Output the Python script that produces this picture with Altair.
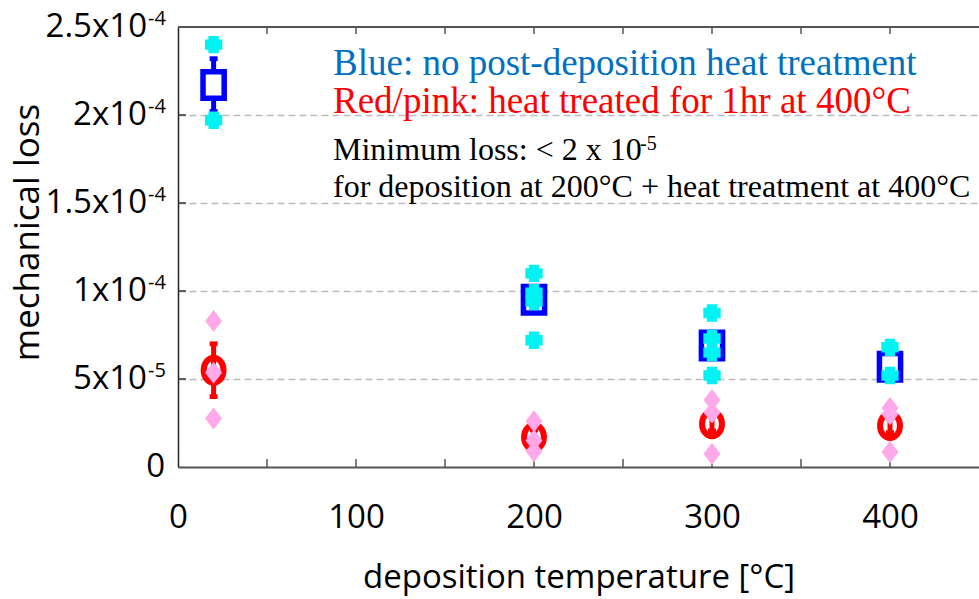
import altair as alt
import pandas as pd

# deposition temperatures of the coating runs [°C]
temps = [20, 200, 300, 400]

# no post-deposition heat treatment: mean loss and error
blue_mean = [2.17e-4, 9.5e-5, 6.9e-5, 5.7e-5]
blue_err = [1.5e-5, 6e-6, 5e-6, 4e-6]

# heat treated 1 hr at 400 °C: mean loss and error
red_mean = [5.5e-5, 1.7e-5, 2.45e-5, 2.35e-5]
red_err = [1.5e-5, 4e-6, 4e-6, 4e-6]

# individual measurements, untreated
cyan_temp = [20, 20, 200, 200, 200, 200, 300, 300, 300, 300, 400, 400]
cyan_loss = [2.40e-4, 1.97e-4, 1.10e-4, 9.9e-5, 9.4e-5, 7.2e-5,
             8.75e-5, 7.3e-5, 6.5e-5, 5.2e-5, 6.8e-5, 5.2e-5]

# individual measurements, heat treated
pink_temp = [20, 20, 20, 200, 200, 200, 300, 300, 300, 400, 400, 400]
pink_loss = [8.3e-5, 5.35e-5, 2.75e-5, 2.6e-5, 1.5e-5, 0.9e-5,
             3.8e-5, 3.1e-5, 0.75e-5, 3.35e-5, 3.0e-5, 0.85e-5]

# axis ticks and labels
x_label_values = [0, 100, 200, 300, 400]
x_tick_values = [50, 100, 150, 200, 250, 300, 350, 400]
y_values = [0, 5e-5, 1e-4, 1.5e-4, 2e-4, 2.5e-4]
y_base = ["0", "5x10", "1x10", "1.5x10", "2x10", "2.5x10"]
y_exp = ["", "-5", "-4", "-4", "-4", "-4"]
y_grid_values = [5e-5, 1e-4, 1.5e-4, 2e-4]
y_top = [2.5e-4]

# annotation text
note_lines = [
    "Blue: no post-deposition heat treatment",
    "Red/pink: heat treated for 1hr at 400°C",
    "Minimum loss: < 2 x 10",
    "for deposition at 200°C + heat treatment at 400°C",
]
note_sup = "-5"

W, H = 801, 440
SANS = "Open Sans"
SERIF = "Liberation Serif"

xs = alt.Scale(domain=[0, 450], nice=False, zero=False)
ys = alt.Scale(domain=[0, 2.5e-4], nice=False, zero=False)

means = pd.DataFrame({
    "temp": temps,
    "blue": blue_mean, "blue_err": blue_err,
    "red": red_mean, "red_err": red_err,
})
cyan = pd.DataFrame({"temp": cyan_temp, "loss": cyan_loss})
pink = pd.DataFrame({"temp": pink_temp, "loss": pink_loss})
ylab = pd.DataFrame({"v": y_values, "base": y_base, "exp": y_exp})
xt = pd.DataFrame({"t": x_tick_values})
yt = pd.DataFrame({"v": y_grid_values})
ytop = pd.DataFrame({"v": y_top})

SQUARE = "M-0.8,-1H0.8V1H-0.8Z"
ELLIPSE = "M0,-1A0.8,1 0 1,1 0,1A0.8,1 0 1,1 0,-1Z"
CROSS = "M-0.6,-1H0.6V-0.6H1V0.6H0.6V1H-0.6V0.6H-1V-0.6H-0.6Z"
DIAMOND = "M0,-1L0.77,0L0,1L-0.77,0Z"
CAP = "M-1,-0.6H1V0.6H-1Z"

base = alt.Chart(means)

# axes, grid and the bottom/left frame
frame = base.mark_point(opacity=0).encode(
    x=alt.X("temp:Q", scale=xs, axis=alt.Axis(
        values=x_label_values, ticks=False, grid=False, labelFlush=False,
        domainColor="#555555", domainWidth=2,
        labelFont=SANS, labelFontSize=33, labelColor="black", labelPadding=34,
        title="deposition temperature [°C]", titleFont=SANS, titleFontSize=33,
        titleFontWeight="normal", titleColor="black",
        titleBaseline="alphabetic", titleY=120)),
    y=alt.Y("blue:Q", scale=ys, axis=alt.Axis(
        values=y_grid_values, ticks=False, labels=False,
        grid=True, gridDash=[7, 4], gridColor="#bdbdbd", gridWidth=1.5,
        domainColor="#222222", domainWidth=1.5,
        title="mechanical loss", titleFont=SANS, titleFontSize=35,
        titleFontWeight="normal", titleColor="black",
        titleBaseline="alphabetic", titleX=-140, titleY=205)),
)

top_line = alt.Chart(ytop).mark_rule(color="#555555", strokeWidth=2).encode(
    y=alt.Y("v:Q", scale=ys, axis=None), x=alt.value(0), x2=alt.value(W))

tick_bottom = alt.Chart(xt).mark_rule(color="#555555", strokeWidth=1.5).encode(
    x=alt.X("t:Q", scale=xs, axis=None), y=alt.value(H), y2=alt.value(H - 8))
tick_top = alt.Chart(xt).mark_rule(color="#555555", strokeWidth=1.5).encode(
    x=alt.X("t:Q", scale=xs, axis=None), y=alt.value(0), y2=alt.value(7))
tick_left = alt.Chart(yt).mark_rule(color="#333333", strokeWidth=1.5).encode(
    y=alt.Y("v:Q", scale=ys, axis=None), x=alt.value(0), x2=alt.value(8))

# y tick labels with superscript exponents
ylab_base = alt.Chart(ylab).transform_filter("datum.exp != ''").mark_text(
    align="right", baseline="middle", font=SANS, fontSize=33, color="black"
).encode(y=alt.Y("v:Q", scale=ys, axis=None), x=alt.value(-31), text="base:N")
ylab_exp = alt.Chart(ylab).transform_filter("datum.exp != ''").mark_text(
    align="left", baseline="alphabetic", font=SANS, fontSize=20, color="black", dy=-2
).encode(y=alt.Y("v:Q", scale=ys, axis=None), x=alt.value(-30), text="exp:N")
ylab_zero = alt.Chart(ylab).transform_filter("datum.exp == ''").mark_text(
    align="right", baseline="middle", font=SANS, fontSize=33, color="black"
).encode(y=alt.Y("v:Q", scale=ys, axis=None), x=alt.value(-13), text="base:N")


def error_layers(mean_col, err_col, color):
    src = base.transform_calculate(
        lo=f"datum.{mean_col} - datum.{err_col}",
        hi=f"datum.{mean_col} + datum.{err_col}")
    stem = src.mark_rule(color=color, strokeWidth=5).encode(
        x=alt.X("temp:Q", scale=xs, axis=None),
        y=alt.Y("lo:Q", scale=ys, axis=None), y2="hi:Q")
    caps = src.transform_fold(["lo", "hi"], as_=["end", "val"]).mark_point(
        shape=CAP, size=64, filled=True, color=color, opacity=1).encode(
        x=alt.X("temp:Q", scale=xs, axis=None),
        y=alt.Y("val:Q", scale=ys, axis=None))
    return [stem, caps]


blue_err_l = error_layers("blue", "blue_err", "#0000ff")
red_err_l = error_layers("red", "red_err", "#ff0000")

blue_marks = base.mark_point(
    shape=SQUARE, size=700, fill="white", fillOpacity=1, stroke="#0000ff",
    strokeWidth=5.5, opacity=1).encode(
    x=alt.X("temp:Q", scale=xs, axis=None), y=alt.Y("blue:Q", scale=ys, axis=None))
red_marks = base.mark_point(
    shape=ELLIPSE, size=620, filled=False, stroke="#ff0000",
    strokeWidth=6, opacity=1).encode(
    x=alt.X("temp:Q", scale=xs, axis=None), y=alt.Y("red:Q", scale=ys, axis=None))

cyan_marks = alt.Chart(cyan).mark_point(
    shape=CROSS, size=300, filled=True, color="#00f2f2", opacity=1).encode(
    x=alt.X("temp:Q", scale=xs, axis=None), y=alt.Y("loss:Q", scale=ys, axis=None))
pink_marks = alt.Chart(pink).mark_point(
    shape=DIAMOND, size=484, filled=True, color="#ffa8ea", opacity=1).encode(
    x=alt.X("temp:Q", scale=xs, axis=None), y=alt.Y("loss:Q", scale=ys, axis=None))


def note(text, px, py, size, color):
    return alt.Chart(pd.DataFrame({"txt": [text]})).mark_text(
        align="left", baseline="alphabetic", font=SERIF, fontSize=size, color=color
    ).encode(x=alt.value(px), y=alt.value(py), text="txt:N")


notes = [
    note(note_lines[0], 155, 48, 37, "#0070c0"),
    note(note_lines[1], 155, 86, 37, "#ff0000"),
    note(note_lines[2], 155, 133, 32, "black"),
    note(note_sup, 462, 123, 20, "black"),
    note(note_lines[3], 155, 170, 32, "black"),
]

chart = alt.layer(
    frame, top_line, tick_bottom, tick_top, tick_left,
    ylab_base, ylab_exp, ylab_zero,
    *red_err_l, *blue_err_l, blue_marks, red_marks, cyan_marks, pink_marks,
    *notes,
).resolve_axis(x="independent", y="independent").properties(
    width=W, height=H,
    padding={"left": 178, "top": 27, "right": 0, "bottom": 132},
    autosize=alt.AutoSizeParams(type="none"),
    background="white",
).configure_view(stroke=None)

chart.save("out.html", embed_options={"renderer": "svg", "actions": False})
